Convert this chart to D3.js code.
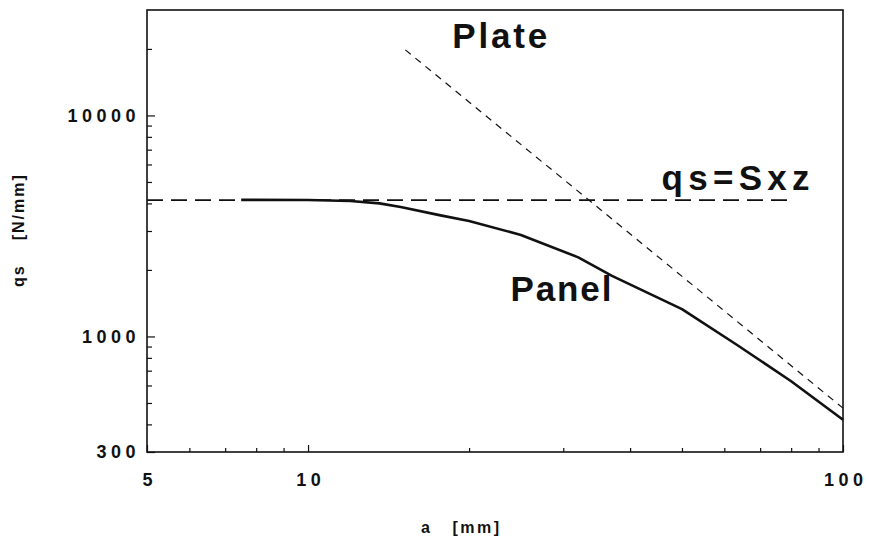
<!DOCTYPE html>
<html>
<head>
<meta charset="utf-8">
<script src="https://cdn.jsdelivr.net/npm/d3@7"></script>
<style>
  body { margin: 0; background: #fff; }
  svg { display: block; }
  .tick text { font-family: "Liberation Sans", Arial, sans-serif; font-weight: bold; font-size: 18px; fill: #111; letter-spacing: 4.5px; }
  .domain { display: none; }
</style>
</head>
<body>
<div id="chart"></div>
<script>
// data (a in mm, qs in N/mm)
var panel_a = [7.5, 10, 12, 13.6, 14.9, 17.6, 20, 25, 32, 37, 50, 63.4, 80, 100];
var panel_qs = [4150, 4145, 4100, 4000, 3850, 3540, 3330, 2880, 2280, 1880, 1330, 915, 627, 420];

var plate_a = [15.2, 100];
var plate_qs = [19800, 474];

var sxz_a = [5, 80];
var sxz_qs = [4140, 4140];

var x_major = [5, 10, 100];
var x_minor = [6, 7, 8, 9, 20, 30, 40, 50, 60, 70, 80, 90];
var y_major = [300, 1000, 10000];
var y_minor = [400, 500, 600, 700, 800, 900, 2000, 3000, 4000, 5000, 6000, 7000, 8000, 9000, 20000];

var label_text = ["Plate", "Panel", "qs=Sxz"];
var label_a = [18.6, 23.9, 45.8];
var label_qs = [20200, 1445, 4594];
var label_len = [95, 101, 148];

const W = 869, H = 544;
const plot = { left: 147, right: 843, top: 10, bottom: 452 };

const svg = d3.select("#chart").append("svg")
    .attr("width", W)
    .attr("height", H);

var x = d3.scaleLog().domain([5, 100]).range([plot.left, plot.right]);
var y = d3.scaleLog().domain([300, 30000]).range([plot.bottom, plot.top]);

// minor ticks (inward, no labels)
svg.append("g")
    .attr("transform", "translate(0," + plot.bottom + ")")
    .call(d3.axisBottom(x).tickValues(x_minor).tickSize(-4).tickFormat(""))
svg.append("g")
    .attr("transform", "translate(" + plot.left + ",0)")
    .call(d3.axisLeft(y).tickValues(y_minor).tickSize(-5).tickFormat(""))

// major ticks with labels
svg.append("g")
    .attr("transform", "translate(0," + plot.bottom + ")")
    .call(d3.axisBottom(x).tickValues(x_major).tickSize(-7).tickPadding(21).tickFormat(d3.format("d")))
    .selectAll("text").attr("dx", "2.25px")
svg.append("g")
    .attr("transform", "translate(" + plot.left + ",0)")
    .call(d3.axisLeft(y).tickValues(y_major).tickSize(-8).tickPadding(7).tickFormat(d3.format("d")))

svg.selectAll(".tick line").attr("stroke", "#111").attr("stroke-width", 1.2);

// frame
svg.append("rect")
    .attr("x", plot.left)
    .attr("y", plot.top)
    .attr("width", plot.right - plot.left)
    .attr("height", plot.bottom - plot.top)
    .attr("fill", "none")
    .attr("stroke", "#111")
    .attr("stroke-width", 1.6);

var line = d3.line()
    .x(d => x(d[0]))
    .y(d => y(d[1]));

// qs = Sxz level
svg.append("path")
    .datum(d3.zip(sxz_a, sxz_qs))
    .attr("d", line)
    .attr("fill", "none")
    .attr("stroke", "#111")
    .attr("stroke-width", 1.6)
    .attr("stroke-dasharray", "16,8");

// plate buckling
svg.append("path")
    .datum(d3.zip(plate_a, plate_qs))
    .attr("d", line)
    .attr("fill", "none")
    .attr("stroke", "#111")
    .attr("stroke-width", 1.2)
    .attr("stroke-dasharray", "7,6");

// panel
svg.append("path")
    .datum(d3.zip(panel_a, panel_qs))
    .attr("d", line)
    .attr("fill", "none")
    .attr("stroke", "#111")
    .attr("stroke-width", 2.6)
    .attr("stroke-linejoin", "round");

// curve labels
svg.selectAll("text.curve-label")
    .data(d3.range(label_text.length))
    .join("text")
    .attr("class", "curve-label")
    .attr("x", i => x(label_a[i]))
    .attr("y", i => y(label_qs[i]))
    .attr("textLength", i => label_len[i])
    .attr("lengthAdjust", "spacing")
    .style("font-family", "'Liberation Sans', Arial, sans-serif")
    .style("font-weight", "bold")
    .style("font-size", "35px")
    .style("fill", "#111")
    .text(i => label_text[i]);

// axis titles
var ytitle = svg.append("text")
    .attr("transform", "translate(24,287) rotate(-90)")
    .style("font-family", "'Liberation Sans', Arial, sans-serif")
    .style("font-weight", "bold")
    .style("font-size", "16px")
    .style("letter-spacing", "2px")
    .style("fill", "#111")
    .text("qs");
ytitle.append("tspan").attr("dx", 24).text("[N/mm]");

var xtitle = svg.append("text")
    .attr("x", 421)
    .attr("y", 533)
    .style("font-family", "'Liberation Sans', Arial, sans-serif")
    .style("font-weight", "bold")
    .style("font-size", "16px")
    .style("letter-spacing", "2.5px")
    .style("fill", "#111")
    .text("a");
xtitle.append("tspan").attr("dx", 20).text("[mm]");
</script>
</body>
</html>
